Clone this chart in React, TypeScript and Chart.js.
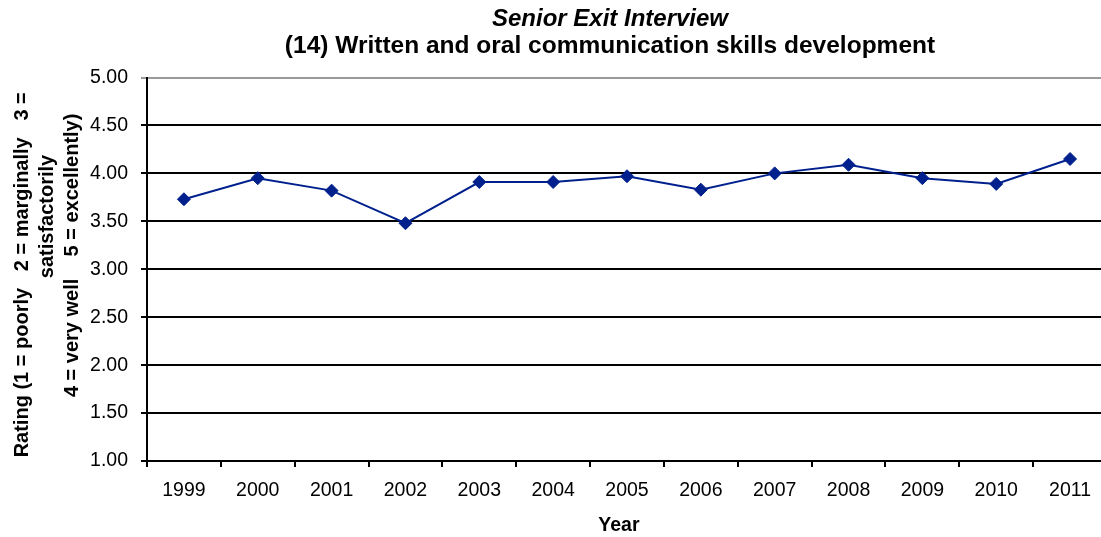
import React, { useEffect, useRef } from "react";
import { Chart, registerables } from "chart.js";

Chart.register(...registerables);

const categories = ["1999", "2000", "2001", "2002", "2003", "2004", "2005", "2006", "2007", "2008", "2009", "2010", "2011"];
const ratings = [3.73, 3.95, 3.82, 3.48, 3.91, 3.91, 3.97, 3.83, 4.0, 4.09, 3.95, 3.89, 4.15];
const yMin = 1;
const yMax = 5;
const yStep = 0.5;
const titleLine1 = "Senior Exit Interview";
const titleLine2 = "(14) Written and oral communication skills development";
const xTitle = "Year   ";
const yTitleLines = [
  "Rating (1 = poorly   2 = marginally   3 =  ",
  "                   satisfactorily",
  "     4 = very well    5 = excellently)",
];

const FAMILY = "'Liberation Sans', Arial, Helvetica, sans-serif";
const LINE_COLOR = "#00218D";

export default function App() {
  const ref = useRef<HTMLCanvasElement | null>(null);

  useEffect(() => {
    document.body.style.margin = "0";
    const canvas = ref.current;
    if (!canvas) return;
    const chart = new Chart(canvas, {
      type: "line",
      data: {
        labels: categories,
        datasets: [
          {
            data: ratings,
            borderColor: LINE_COLOR,
            backgroundColor: LINE_COLOR,
            borderWidth: 2,
            pointStyle: "rectRot",
            pointRadius: 6.5,
            pointBorderWidth: 1,
            pointBackgroundColor: LINE_COLOR,
            pointBorderColor: LINE_COLOR,
            tension: 0,
            fill: false,
          },
        ],
      },
      options: {
        responsive: false,
        animation: false,
        devicePixelRatio: 1,
        layout: { padding: 0 },
        plugins: {
          legend: { display: false },
          tooltip: { enabled: false },
          title: {
            display: true,
            text: titleLine1,
            color: "#000",
            font: { family: FAMILY, size: 24, weight: "bold", style: "italic", lineHeight: 1 },
            padding: { top: 7, bottom: 3 },
          },
          subtitle: {
            display: true,
            text: titleLine2,
            color: "#000",
            font: { family: FAMILY, size: 24.5, weight: "bold", lineHeight: 1 },
            padding: { top: 0, bottom: 19 },
          },
        },
        scales: {
          x: {
            type: "category",
            offset: true,
            grid: {
              display: true,
              offset: true,
              drawOnChartArea: false,
              drawTicks: true,
              tickLength: 6,
              color: "#000",
              lineWidth: 2,
            },
            border: { display: true, color: "#000", width: 2 },
            ticks: {
              color: "#000",
              font: { family: FAMILY, size: 19.5 },
              padding: 12,
              maxRotation: 0,
              autoSkip: false,
            },
            title: {
              display: true,
              text: xTitle,
              color: "#000",
              font: { family: FAMILY, size: 19.5, weight: "bold", lineHeight: 1.2 },
              padding: { top: 0, bottom: 0 },
            },
            afterFit: (s: any) => {
              s.height = 76;
            },
          },
          y: {
            type: "linear",
            min: yMin,
            max: yMax,
            grid: {
              display: true,
              drawOnChartArea: true,
              drawTicks: true,
              tickLength: 6,
              color: (ctx: any) => (ctx.tick && ctx.tick.value === yMax ? "#9a9a9a" : "#000"),
              lineWidth: 2,
            },
            border: { display: true, color: "#000", width: 2 },
            ticks: {
              stepSize: yStep,
              color: "#000",
              font: { family: FAMILY, size: 19.5 },
              padding: 13,
              callback: (v: any) => Number(v).toFixed(2),
            },
            title: {
              display: true,
              text: yTitleLines,
              color: "#000",
              font: { family: FAMILY, size: 20, weight: "bold", lineHeight: 1.25 },
              padding: { top: 9.5, bottom: 0 },
            },
            afterFit: (s: any) => {
              s.width = 147;
            },
          },
          r: {
            type: "linear",
            position: "right",
            display: true,
            grid: { display: false, drawOnChartArea: false },
            border: { display: false },
            ticks: { display: false },
            afterFit: (s: any) => {
              s.width = 113;
            },
          },
        },
      },
    });
    return () => chart.destroy();
  }, []);

  return (
    <div style={{ position: "fixed", left: 0, top: 0, width: 1101, height: 537, overflow: "hidden", background: "#fff" }}>
      <canvas ref={ref} width={1220} height={537} style={{ display: "block", width: 1220, height: 537 }} />
    </div>
  );
}
